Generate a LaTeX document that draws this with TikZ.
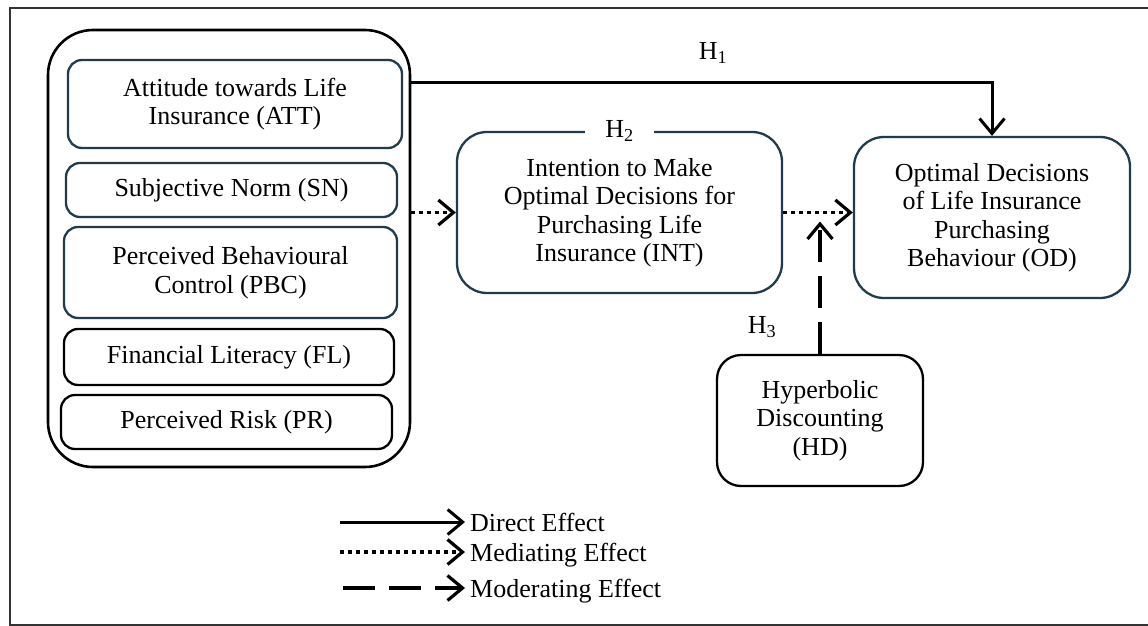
\documentclass[tikz,border=0pt]{standalone}
\usepackage{fontspec}
\setmainfont{Liberation Serif}
\usetikzlibrary{arrows.meta, positioning}
\definecolor{boxblue}{HTML}{1F3B4D}

\begin{document}
\begin{tikzpicture}[x=1pt, y=-1pt,
    font=\fontsize{26}{28.5}\selectfont,
    box/.style={draw=boxblue, line width=2.3pt, rounded corners=14pt, align=center, inner sep=0pt},
    blkbox/.style={box, draw=black},
    chev/.style={-{Straight Barb[length=15pt, width=25pt]}},
    direct/.style={chev, line width=3pt},
    mediate/.style={chev, line width=3.2pt, dash pattern=on 4pt off 4pt},
    moderate/.style={chev, line width=3.2pt, dash pattern=on 32pt off 14pt},
    hlabel/.style={fill=white, inner xsep=20pt, inner ysep=1pt}]

    \useasboundingbox (0,0) rectangle (1148,626);
    % frame
    \draw[line width=2.2pt, black!80] (1148,8) -- (10,8) -- (10,625) -- (1148,625);

    % predictors
    \node[blkbox, line width=2.6pt, rounded corners=45pt, minimum width=362pt, minimum height=437pt] (grp) at (229,248.5) {};
    \node[box, minimum width=334pt, minimum height=88pt] (att) at (235,104) {Attitude towards Life\\Insurance (ATT)};
    \node[box, minimum width=331pt, minimum height=54pt] (sn) at (231.5,190) {Subjective Norm (SN)};
    \node[box, minimum width=333pt, minimum height=91pt] (pbc) at (230.5,272.5) {Perceived Behavioural\\Control (PBC)};
    \node[blkbox, minimum width=330pt, minimum height=56pt] (fl) at (229,357) {Financial Literacy (FL)};
    \node[blkbox, minimum width=331pt, minimum height=54pt] (pr) at (226.5,422) {Perceived Risk (PR)};

    % mediator, outcome, moderator
    \node[box, rounded corners=30pt, minimum width=325pt, minimum height=161pt] (int) at (619.5,212.5)
      {Intention to Make\\Optimal Decisions for\\Purchasing Life\\Insurance (INT)};
    \node[box, rounded corners=30pt, minimum width=276pt, minimum height=161pt] (od) at (992,217.5)
      {Optimal Decisions\\of Life Insurance\\Purchasing\\Behaviour (OD)};
    \node[blkbox, rounded corners=24pt, minimum width=206pt, minimum height=131pt] (hd) at (820,420.5)
      {Hyperbolic\\Discounting\\(HD)};

    % paths
    \coordinate (h1turn) at (992,82);
    \draw[direct] (grp.east |- h1turn) -- (h1turn) -- (od.north);
    \node (h1) at (713,53) {H\textsubscript{1}};

    \node[hlabel] (h2) at (int.north) {H\textsubscript{2}};
    \draw[mediate] (grp.east |- int.west) -- (int.west);
    \draw[mediate] (int.east) -- (int.east -| od.west);

    \draw[moderate, shorten >=9pt] (hd.north) -- (hd.north |- int.east);
    \node (h3) at (762,327) {H\textsubscript{3}};

    % legend
    \node[anchor=west, inner sep=0pt] (ldir) at (470,522) {Direct Effect};
    \node[anchor=west, inner sep=0pt] (lmed) at (470,555) {Mediating Effect};
    \node[anchor=west, inner sep=0pt] (lmod) at (470,591) {Moderating Effect};
    \coordinate (ldirs) at (340,522);
    \coordinate (lmeds) at (340,552);
    \coordinate (lmods) at (343,588);
    \draw[direct, shorten >=5pt] (ldirs) -- (ldirs -| ldir.west);
    \draw[mediate, shorten >=5pt] (lmeds) -- (lmeds -| lmed.west);
    \draw[moderate, shorten >=5pt] (lmods) -- (lmods -| lmod.west);
\end{tikzpicture}
\end{document}
